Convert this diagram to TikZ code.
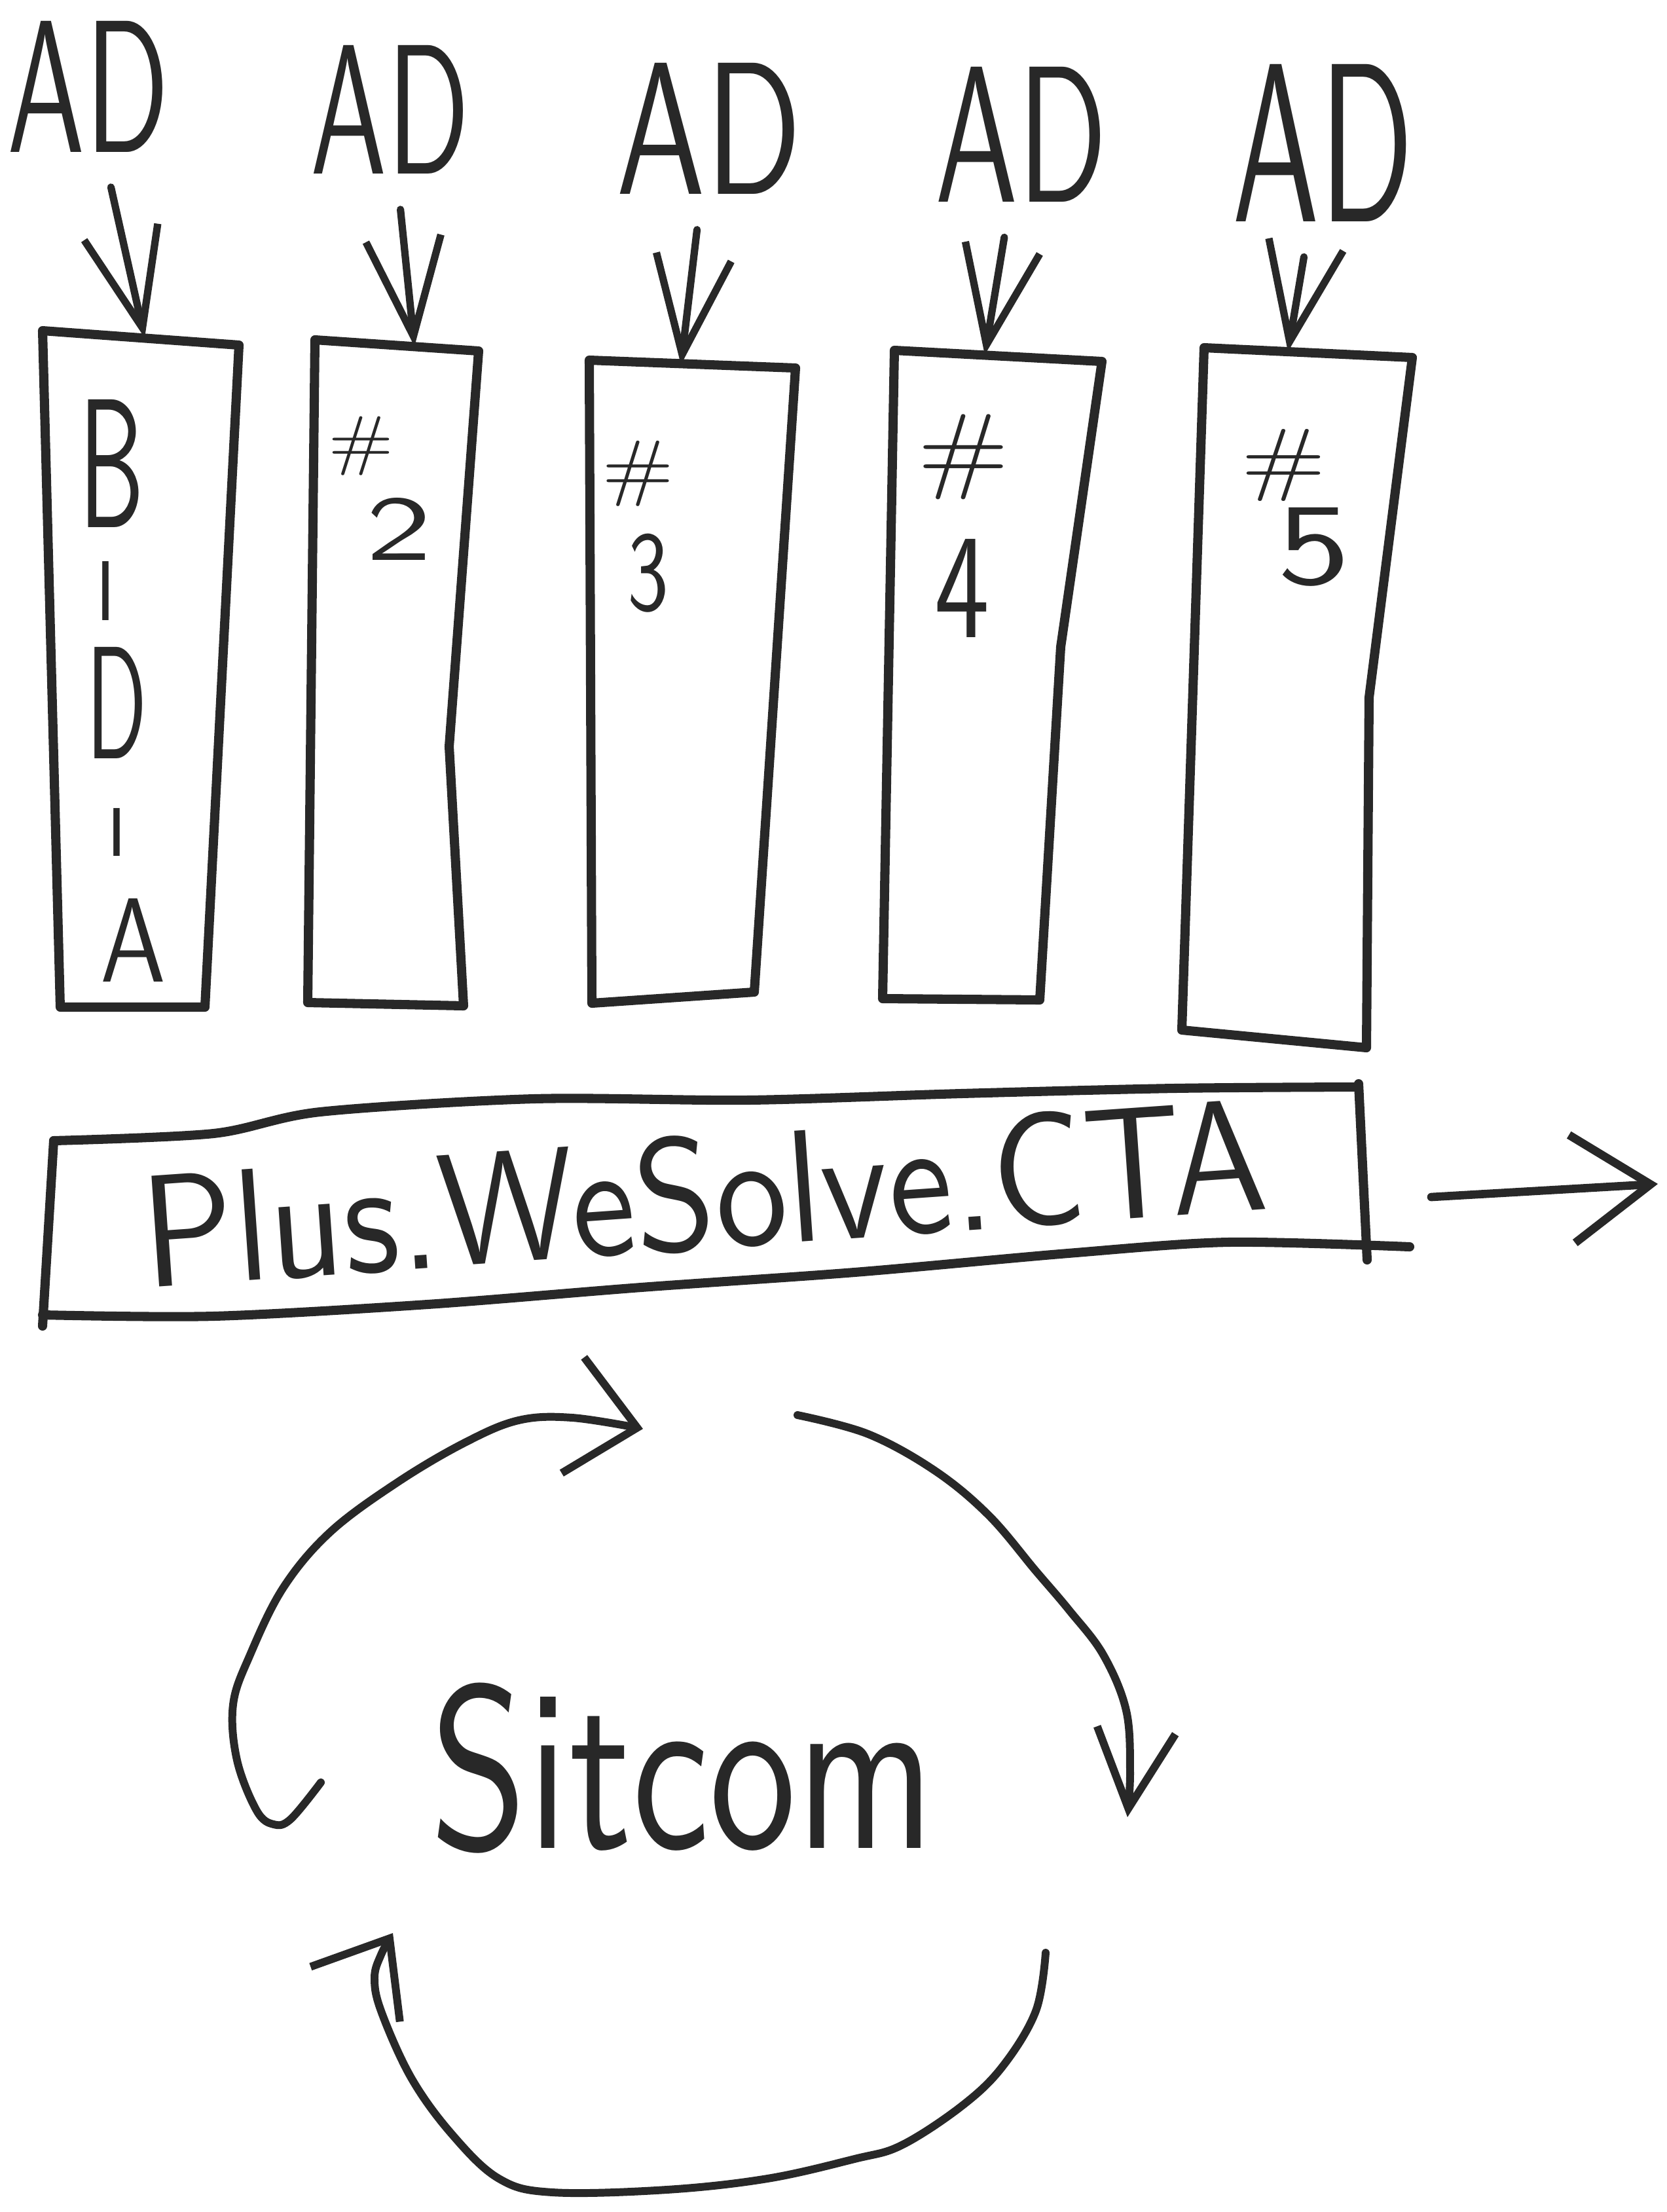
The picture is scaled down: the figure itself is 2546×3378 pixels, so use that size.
\documentclass[tikz,border=0pt]{standalone}
\usepackage{graphicx}
\usepackage{xcolor}
\definecolor{inkgray}{RGB}{40,40,40}
\usepackage{tikz}
\usetikzlibrary{arrows.meta}
\newcommand{\inkword}[3]{\resizebox*{#1}{#2}{#3}}
\tikzset{
  handtext/.style={inner sep=0pt, outer sep=0pt, font=\sffamily, text=inkgray},
  handbox/.style={draw=inkgray, line width=4pt, line join=round, line cap=round},
  adarrow/.style={draw=inkgray, line width=3.2pt, line cap=round, line join=round,
    -{Straight Barb[length=1.5cm,width=1.15cm]}, shorten <=0.55cm},
  ctaarrow/.style={draw=inkgray, line width=3.6pt, line cap=round, line join=round,
    -{Straight Barb[length=1.2cm,width=1.65cm]}},
  looparrow/.style={draw=inkgray, line width=3.4pt, line cap=round, line join=round},
}

\begin{document}
\begin{tikzpicture}[x=0.01cm, y=-0.01cm]
  \useasboundingbox (0,0) rectangle (2546,3378);

  % AD labels
  \node (ad1) [handtext] at (135,132)  {\inkword{2.46cm}{2.0cm}{AD}};
  \node (ad2) [handtext] at (596,167)  {\inkword{2.42cm}{1.96cm}{AD}};
  \node (ad3) [handtext] at (1083,196) {\inkword{2.83cm}{2.0cm}{AD}};
  \node (ad4) [handtext] at (1560,205) {\inkword{2.63cm}{2.06cm}{AD}};
  \node (ad5) [handtext] at (2021,218) {\inkword{2.76cm}{2.4cm}{AD}};

  % columns
  \draw[handbox] (65,505) -- (365,527) -- (313,1538) -- (92,1538) -- cycle;
  \draw[handbox] (481,519) -- (731,536) -- (686,1140) -- (708,1536) -- (470,1531) -- cycle;
  \draw[handbox] (900,550) -- (1215,562) -- (1152,1515) -- (904,1532) -- cycle;
  \draw[handbox] (1366,535) -- (1683,552) -- (1620,988) -- (1588,1527) -- (1348,1525) -- cycle;
  \draw[handbox] (1839,531) -- (2157,546) -- (2091,1065) -- (2087,1600) -- (1805,1573) -- cycle;
  \coordinate (col1top) at (221,516);
  \coordinate (col2top) at (633,529);
  \coordinate (col3top) at (1040,557);
  \coordinate (col4top) at (1504,542);
  \coordinate (col5top) at (1967,537);

  \draw[adarrow] (ad1) -- (col1top);
  \draw[adarrow] (ad2) -- (col2top);
  \draw[adarrow] (ad3) -- (col3top);
  \draw[adarrow] (ad4) -- (col4top);
  \draw[adarrow] (ad5) -- (col5top);

  % column texts
  \node (b1)  [handtext] at (171,708)  {\inkword{1.0cm}{1.95cm}{B}};
  \node (i1)  [handtext] at (162,902)  {\inkword{0.3cm}{0.9cm}{I}};
  \node (d1)  [handtext] at (179,1073) {\inkword{0.92cm}{1.7cm}{D}};
  \node (i2)  [handtext] at (179,1271) {\inkword{0.3cm}{0.73cm}{I}};
  \node (a1)  [handtext] at (204,1436) {\inkword{1.0cm}{1.27cm}{A}};
  \node (h2)  [handtext] at (552,681)  {\inkword{1.0cm}{0.9cm}{\#}};
  \node (n2)  [handtext] at (610,808)  {\inkword{1.0cm}{0.95cm}{2}};
  \node (h3)  [handtext] at (975,723)  {\inkword{1.1cm}{1.0cm}{\#}};
  \node (n3)  [handtext] at (990,875)  {\inkword{0.63cm}{1.2cm}{3}};
  \node (h4)  [handtext] at (1472,698) {\inkword{1.4cm}{1.3cm}{\#}};
  \node (n4)  [handtext] at (1470,898) {\inkword{0.84cm}{1.5cm}{4}};
  \node (h5)  [handtext] at (1961,710) {\inkword{1.3cm}{1.1cm}{\#}};
  \node (n5)  [handtext] at (2007,835) {\inkword{1.12cm}{1.2cm}{5}};

  % CTA bar
  \draw[handbox] plot[smooth, tension=0.5] coordinates {(82,1742) (326,1731) (489,1698) (816,1678)
    (1142,1680) (1468,1670) (1794,1662) (2072,1660)};
  \draw[handbox] plot[smooth, tension=0.5] coordinates {(65,2008) (326,2010) (653,1992) (979,1966)
    (1305,1943) (1631,1914) (1876,1897) (2153,1904)};
  \draw[handbox] (82,1742) -- (65,2025);
  \draw[handbox] (2075,1655) -- (2088,1924);
  \node (cta) [handtext, rotate=4] at (1075,1822) {\inkword{17.2cm}{1.8cm}{Plus.WeSolve.CTA}};
  \coordinate (ctastart) at (2186,1828);
  \coordinate (ctaout) at (2532,1808);
  \draw[ctaarrow] (ctastart) -- (ctaout);

  % sitcom loop
  \node (sitcom) [handtext] at (1043,2700) {\inkword{7.7cm}{2.6cm}{Sitcom}};
  \draw[looparrow, -{Straight Barb[length=1.0cm,width=1.8cm]}] plot[smooth, tension=0.6] coordinates {
    (490,2722) (444,2778) (418,2786) (392,2765) (362,2688) (356,2603) (382,2527) (433,2424)
    (505,2339) (608,2263) (710,2203) (792,2169) (874,2165) (982,2182)};
  \draw[looparrow, -{Straight Barb[length=1.2cm,width=1.2cm]}] plot[smooth, tension=0.6] coordinates {
    (1218,2161) (1326,2190) (1428,2246) (1510,2314) (1582,2399) (1633,2459) (1685,2527)
    (1720,2612) (1726,2705) (1722,2775)};
  \draw[looparrow, -{Straight Barb[length=1.0cm,width=1.6cm]}] plot[smooth, tension=0.6] coordinates {
    (1597,2982) (1582,3071) (1531,3156) (1469,3216) (1377,3276) (1305,3297) (1172,3327)
    (1018,3344) (844,3348) (762,3327) (690,3259) (628,3173) (582,3071) (572,3020) (582,2985) (600,2952)};
\end{tikzpicture}
\end{document}
